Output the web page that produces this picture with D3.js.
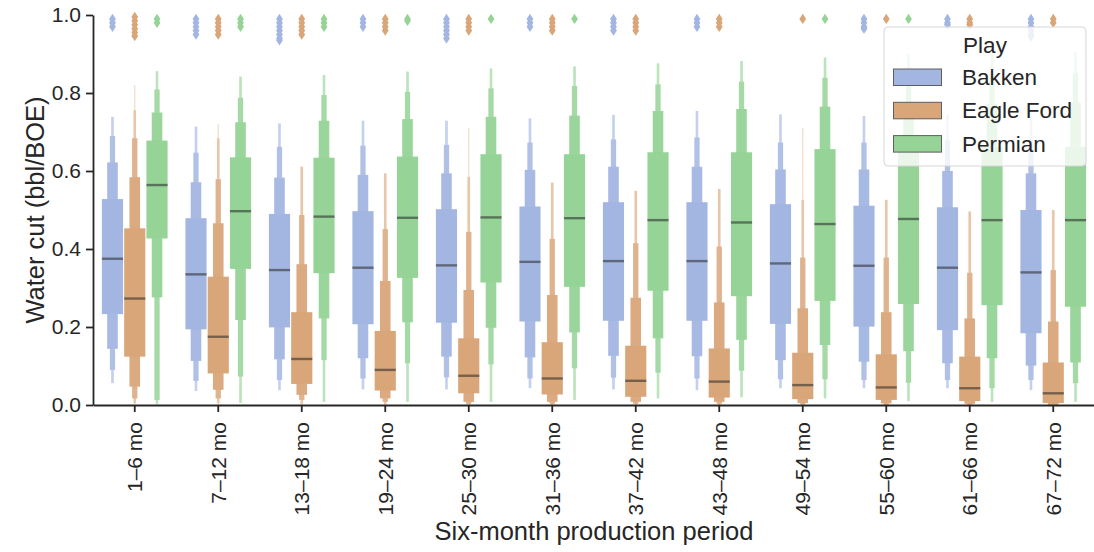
<!DOCTYPE html>
<html>
<head>
<meta charset="utf-8">
<script src="https://cdn.jsdelivr.net/npm/d3@7"></script>
<style>
  body { margin: 0; background: #fff; }
  text { font-family: "Liberation Sans", Arial, Helvetica, sans-serif; fill: #262626; }
</style>
</head>
<body>
<svg id="chart" width="1094" height="552"></svg>
<script>
// Six-month production periods (x categories)
const periods = ["1–6 mo", "7–12 mo", "13–18 mo", "19–24 mo", "25–30 mo", "31–36 mo",
                 "37–42 mo", "43–48 mo", "49–54 mo", "55–60 mo", "61–66 mo", "67–72 mo"];
const plays = ["Bakken", "Eagle Ford", "Permian"];
const playColors = ["#a3b6e2", "#d9a679", "#95d396"];
const yTicks = [0, 0.2, 0.4, 0.6, 0.8, 1.0];

// Letter-value summaries: median, then upper / lower bounds of each nested box (innermost first)
const bakkenMedian = [0.375, 0.335, 0.346, 0.352, 0.358, 0.367, 0.369, 0.369, 0.363, 0.357, 0.352, 0.340];
const bakkenHigh = [
  [0.528, 0.622, 0.690, 0.739], [0.479, 0.571, 0.647, 0.714], [0.490, 0.583, 0.662, 0.722],
  [0.497, 0.590, 0.665, 0.729], [0.502, 0.594, 0.667, 0.729], [0.509, 0.603, 0.673, 0.735],
  [0.520, 0.611, 0.681, 0.744], [0.520, 0.611, 0.686, 0.754], [0.515, 0.604, 0.673, 0.745],
  [0.511, 0.604, 0.673, 0.741], [0.507, 0.600, 0.679, 0.745], [0.500, 0.594, 0.670, 0.740]];
const bakkenLow = [
  [0.233, 0.144, 0.090, 0.056], [0.194, 0.113, 0.062, 0.036], [0.199, 0.117, 0.064, 0.038],
  [0.207, 0.120, 0.068, 0.040], [0.211, 0.124, 0.071, 0.040], [0.214, 0.122, 0.068, 0.043],
  [0.216, 0.126, 0.070, 0.040], [0.216, 0.125, 0.068, 0.038], [0.208, 0.115, 0.066, 0.043],
  [0.201, 0.111, 0.064, 0.043], [0.192, 0.107, 0.064, 0.043], [0.184, 0.101, 0.064, 0.038]];
const bakkenOutliers = [
  [0.99, 0.98, 0.97], [0.99, 0.98, 0.97, 0.96, 0.95], [0.99, 0.98, 0.97, 0.96, 0.95, 0.94, 0.935],
  [0.99, 0.98, 0.97], [0.99, 0.98, 0.97, 0.96, 0.95, 0.94], [0.99, 0.98, 0.97],
  [0.99, 0.98, 0.97, 0.96], [0.99, 0.98, 0.97], [],
  [0.99, 0.98, 0.97, 0.965], [0.99, 0.98, 0.975], [0.99, 0.98, 0.97, 0.96, 0.95, 0.945]];

const eagleFordMedian = [0.273, 0.175, 0.118, 0.090, 0.075, 0.068, 0.062, 0.060, 0.051, 0.045, 0.043, 0.030];
const eagleFordHigh = [
  [0.453, 0.584, 0.684, 0.756, 0.820], [0.329, 0.466, 0.579, 0.684, 0.720], [0.238, 0.361, 0.487, 0.611, 0.611],
  [0.190, 0.318, 0.451, 0.594, 0.594], [0.171, 0.295, 0.444, 0.585, 0.710], [0.161, 0.282, 0.426, 0.570, 0.570],
  [0.152, 0.275, 0.415, 0.549, 0.549], [0.145, 0.263, 0.406, 0.554, 0.554], [0.134, 0.248, 0.378, 0.526, 0.710],
  [0.130, 0.238, 0.378, 0.526, 0.526], [0.124, 0.222, 0.339, 0.496, 0.496], [0.109, 0.214, 0.346, 0.500, 0.500]];
const eagleFordLow = [
  [0.124, 0.047, 0.017, 0.005, 0.0], [0.081, 0.039, 0.017, 0.005, 0.0], [0.054, 0.026, 0.013, 0.003, 0.0],
  [0.037, 0.017, 0.008, 0.002, 0.0], [0.030, 0.008, 0.003, 0.0, 0.0], [0.027, 0.008, 0.003, 0.0, 0.0],
  [0.021, 0.008, 0.003, 0.0, 0.0], [0.019, 0.008, 0.003, 0.0, 0.0], [0.015, 0.005, 0.002, 0.0, 0.0],
  [0.013, 0.004, 0.0, 0.0, 0.0], [0.010, 0.003, 0.0, 0.0, 0.0], [0.005, 0.0, 0.0, 0.0, 0.0]];
const eagleFordOutliers = [
  [0.995, 0.985, 0.975, 0.965, 0.955, 0.946], [0.99, 0.98, 0.97, 0.96, 0.95], [0.99, 0.98, 0.97, 0.96, 0.95],
  [0.99, 0.98, 0.97, 0.96], [0.99, 0.98, 0.97, 0.96], [0.99, 0.98, 0.97, 0.96],
  [0.99, 0.98, 0.97, 0.96], [0.99, 0.98, 0.97], [0.99],
  [0.99], [0.99, 0.98, 0.975], [0.99, 0.98]];

const permianMedian = [0.564, 0.497, 0.483, 0.480, 0.481, 0.479, 0.474, 0.468, 0.464, 0.477, 0.474, 0.474];
const permianHigh = [
  [0.678, 0.750, 0.809, 0.856], [0.635, 0.725, 0.788, 0.842], [0.634, 0.729, 0.795, 0.846],
  [0.637, 0.733, 0.803, 0.855], [0.643, 0.739, 0.812, 0.863], [0.643, 0.742, 0.818, 0.868],
  [0.648, 0.754, 0.822, 0.876], [0.648, 0.759, 0.829, 0.882], [0.656, 0.765, 0.839, 0.891],
  [0.660, 0.770, 0.845, 0.900], [0.662, 0.772, 0.848, 0.902], [0.662, 0.775, 0.850, 0.905]];
const permianLow = [
  [0.427, 0.276, 0.013, 0.003], [0.349, 0.218, 0.073, 0.005], [0.338, 0.222, 0.115, 0.008],
  [0.326, 0.212, 0.107, 0.008], [0.314, 0.198, 0.104, 0.008], [0.303, 0.186, 0.094, 0.013],
  [0.293, 0.171, 0.083, 0.017], [0.279, 0.167, 0.088, 0.020], [0.267, 0.154, 0.066, 0.017],
  [0.259, 0.138, 0.057, 0.010], [0.256, 0.120, 0.043, 0.008], [0.252, 0.109, 0.056, 0.008]];
const permianOutliers = [
  [0.99, 0.98], [0.99, 0.98, 0.97], [0.99, 0.98, 0.97],
  [0.99, 0.985], [0.99], [0.99],
  [], [], [0.99],
  [0.99], [], []];

const series = [
  { name: plays[0], color: playColors[0], median: bakkenMedian, high: bakkenHigh, low: bakkenLow, outliers: bakkenOutliers },
  { name: plays[1], color: playColors[1], median: eagleFordMedian, high: eagleFordHigh, low: eagleFordLow, outliers: eagleFordOutliers },
  { name: plays[2], color: playColors[2], median: permianMedian, high: permianHigh, low: permianLow, outliers: permianOutliers }
];

const svg = d3.select("#chart");
const margin = { left: 93, right: 1095, top: 15, bottom: 405 };

const x = d3.scaleBand().domain(periods).range([margin.left, margin.right]).padding(0);
const bw = x.bandwidth();
const hue = d3.scaleBand().domain(plays).range([-0.4 * bw, 0.4 * bw]).padding(0);
const boxW = hue.bandwidth() * 0.95;
const y = d3.scaleLinear().domain([0, 1]).range([margin.bottom, margin.top]);

// Lighter shades for the outer letter-value boxes
const fade = [0, 0.05, 0.15, 0.36, 0.62];

const plot = svg.append("g");
series.forEach(s => {
  const g = plot.append("g");
  periods.forEach((p, i) => {
    const cx = x(p) + bw / 2 + hue(s.name) + hue.bandwidth() / 2;
    const hi = s.high[i], lo = s.low[i];
    // outermost (narrowest) levels first, inner ones on top
    for (let k = hi.length - 1; k >= 0; k--) {
      const w = Math.max(boxW * Math.pow(0.5, k), 1.2);
      const top = y(hi[k]), bot = y(lo[k]);
      if (bot - top <= 0) continue;
      g.append("rect")
        .attr("x", cx - w / 2).attr("width", w)
        .attr("y", top).attr("height", bot - top)
        .attr("fill", d3.interpolateRgb(s.color, "#ffffff")(fade[k]));
    }
    g.append("line")
      .attr("x1", cx - boxW / 2).attr("x2", cx + boxW / 2)
      .attr("y1", y(s.median[i])).attr("y2", y(s.median[i]))
      .attr("stroke", "#262626").attr("stroke-opacity", 0.55).attr("stroke-width", 2.4);
    // outlying wells drawn as thin diamonds
    s.outliers[i].forEach(v => {
      g.append("path")
        .attr("d", "M0,-5.2L3.4,0L0,5.2L-3.4,0Z")
        .attr("transform", `translate(${cx},${y(v)})`)
        .attr("fill", s.color);
    });
  });
});

// Axes
const yAxis = svg.append("g")
  .attr("transform", `translate(${margin.left},0)`)
  .call(d3.axisLeft(y).tickValues(yTicks).tickFormat(d3.format(".1f")).tickSize(7).tickSizeOuter(0).tickPadding(5));
const xAxis = svg.append("g")
  .attr("transform", `translate(0,${margin.bottom})`)
  .call(d3.axisBottom(x).tickSize(7).tickSizeOuter(0));
[xAxis, yAxis].forEach(a => {
  a.select(".domain").attr("stroke", "#262626").attr("stroke-width", 1.8);
  a.selectAll(".tick line").attr("stroke", "#262626").attr("stroke-width", 1.8);
  a.selectAll(".tick text").style("font-size", "21px").attr("fill", "#262626")
    .style("font-family", "'Liberation Sans', Arial, sans-serif");
});
xAxis.selectAll(".tick text")
  .attr("transform", "rotate(-90)")
  .attr("x", -17).attr("y", 0).attr("dy", "0.35em")
  .style("text-anchor", "end");

svg.append("text")
  .attr("x", 594).attr("y", 540)
  .attr("text-anchor", "middle").style("font-size", "25.5px")
  .text("Six-month production period");
svg.append("text")
  .attr("transform", `translate(44,${(margin.top + margin.bottom) / 2}) rotate(-90)`)
  .attr("text-anchor", "middle").style("font-size", "25.5px")
  .text("Water cut (bbl/BOE)");

// Legend
const lg = svg.append("g").attr("transform", "translate(884,27)");
lg.append("rect").attr("width", 202).attr("height", 139).attr("rx", 4)
  .attr("fill", "#ffffff").attr("fill-opacity", 0.8)
  .attr("stroke", "#d6d6d6").attr("stroke-width", 1);
lg.append("text").attr("x", 101).attr("y", 26).attr("text-anchor", "middle")
  .style("font-size", "22.5px").text("Play");
plays.forEach((p, i) => {
  const cy = 50 + i * 33.3;
  lg.append("rect").attr("x", 9.5).attr("y", cy - 8).attr("width", 48).attr("height", 16.5)
    .attr("fill", playColors[i]).attr("stroke", "#5e5e5e").attr("stroke-width", 1);
  lg.append("text").attr("x", 78).attr("y", cy).attr("dy", "0.36em")
    .style("font-size", "22.5px").text(p);
});
</script>
</body>
</html>
